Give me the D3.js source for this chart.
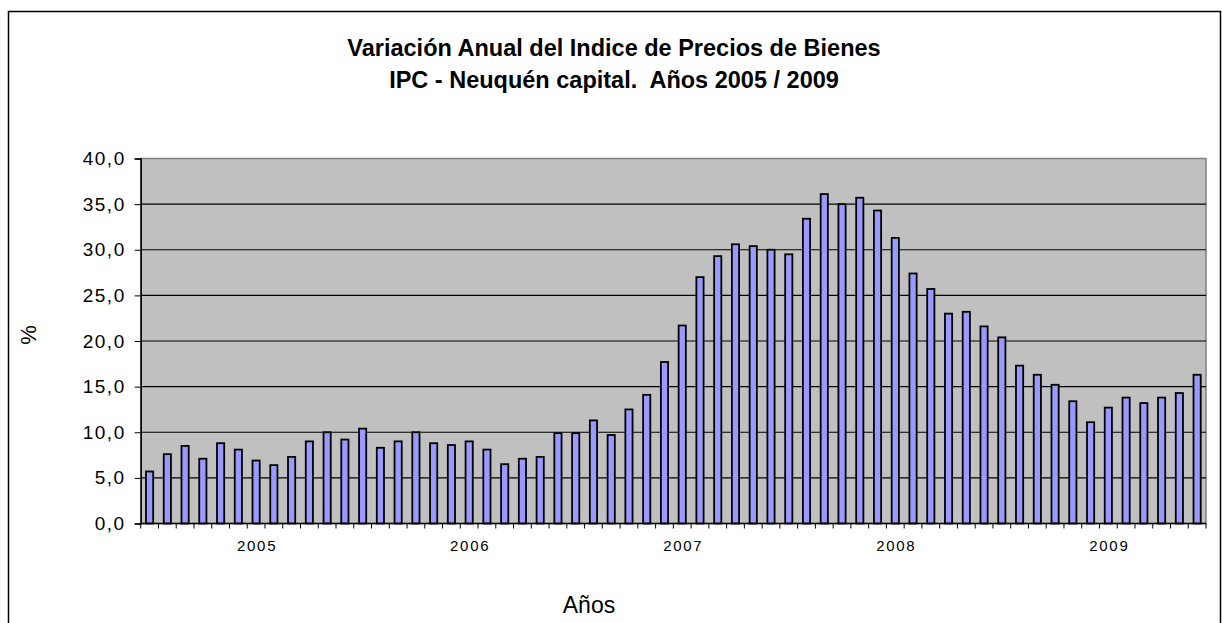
<!DOCTYPE html>
<html>
<head>
<meta charset="utf-8">
<script src="https://cdn.jsdelivr.net/npm/d3@7"></script>
<style>
  body { margin: 0; background: #fff; }
  svg { display: block; font-family: "Liberation Sans", Arial, sans-serif; }
</style>
</head>
<body>
<div id="chart-area"></div>
<script>
const years = ["2005", "2006", "2007", "2008", "2009"];
const months = ["Ene", "Feb", "Mar", "Abr", "May", "Jun", "Jul", "Ago", "Sep", "Oct", "Nov", "Dic"];
const variacion = [
  5.7, 7.6, 8.5, 7.1, 8.8, 8.1, 6.9, 6.4, 7.3, 9.0, 10.0, 9.2,
  10.4, 8.3, 9.0, 10.0, 8.8, 8.6, 9.0, 8.1, 6.5, 7.1, 7.3, 9.9,
  9.9, 11.3, 9.7, 12.5, 14.1, 17.7, 21.7, 27.0, 29.3, 30.6, 30.4, 30.0,
  29.5, 33.4, 36.1, 35.0, 35.7, 34.3, 31.3, 27.4, 25.7, 23.0, 23.2, 21.6,
  20.4, 17.3, 16.3, 15.2, 13.4, 11.1, 12.7, 13.8, 13.2, 13.8, 14.3, 16.3
];
const yTicks = [0, 5, 10, 15, 20, 25, 30, 35, 40];

const data = [];
years.forEach((y, i) => months.forEach((m, j) => {
  data.push({ key: y + "-" + m, year: y, month: j, value: variacion[i * 12 + j] });
}));

const canvas_dims = { width: 1222, height: 623 };
const plot = { left: 140.7, right: 1206, top: 158.5, bottom: 523.5 };

const svg = d3.select("#chart-area")
  .append("svg")
  .attr("width", canvas_dims.width)
  .attr("height", canvas_dims.height);

// outer chart frame
svg.append("rect")
  .attr("x", 8.5).attr("y", 11.5)
  .attr("width", 1212).attr("height", 640)
  .attr("fill", "#fff").attr("stroke", "#000").attr("stroke-width", 1.5);

const x = d3.scaleBand()
  .domain(data.map(d => d.key))
  .range([plot.left, plot.right]);

const y = d3.scaleLinear()
  .domain([0, 40])
  .range([plot.bottom, plot.top]);

const locale = d3.formatLocale({ decimal: ",", thousands: ".", grouping: [3], currency: ["$", ""] });
const fmt = locale.format(".1f");

// plot background
svg.append("rect")
  .attr("x", plot.left).attr("y", plot.top)
  .attr("width", plot.right - plot.left).attr("height", plot.bottom - plot.top)
  .attr("fill", "#c0c0c0").attr("stroke", "#808080").attr("stroke-width", 1.5);

// gridlines
svg.append("g")
  .selectAll("line")
  .data(yTicks.filter(t => t > 0 && t < 40))
  .enter()
  .append("line")
  .attr("x1", plot.left).attr("x2", plot.right)
  .attr("y1", d => y(d)).attr("y2", d => y(d))
  .attr("stroke", "#000").attr("stroke-width", 1.2);

// bars
svg.append("g")
  .selectAll("rect")
  .data(data)
  .enter()
  .append("rect")
  .attr("x", d => x(d.key) + x.bandwidth() / 2 - 3.6)
  .attr("y", d => y(d.value))
  .attr("width", 7.2)
  .attr("height", d => y(0) - y(d.value))
  .attr("fill", "#9999ff")
  .attr("stroke", "#000")
  .attr("stroke-width", 1.8);

// y axis
const yAxis = d3.axisLeft(y).tickValues(yTicks).tickFormat(fmt).tickSize(6).tickPadding(9);
const gy = svg.append("g")
  .attr("transform", `translate(${plot.left},0)`)
  .call(yAxis);
gy.select(".domain").attr("stroke", "#000").attr("stroke-width", 1.5);
gy.selectAll(".tick line").attr("stroke", "#000");
gy.selectAll(".tick text")
  .attr("font-size", "19px")
  .attr("letter-spacing", "1.5px")
  .attr("font-family", "Liberation Sans, Arial, sans-serif")
  .attr("fill", "#000");

// x axis: ticks at every month boundary
const boundaries = d3.range(data.length + 1).map(i => plot.left + i * x.step());
const gx = svg.append("g");
gx.append("line")
  .attr("x1", plot.left).attr("x2", plot.right)
  .attr("y1", plot.bottom).attr("y2", plot.bottom)
  .attr("stroke", "#000").attr("stroke-width", 1.5);
gx.selectAll("line.tick")
  .data(boundaries)
  .enter()
  .append("line")
  .attr("class", "tick")
  .attr("x1", d => d).attr("x2", d => d)
  .attr("y1", plot.bottom).attr("y2", plot.bottom + 5)
  .attr("stroke", "#000").attr("stroke-width", 1);

// year labels under July of each year
gx.selectAll("text")
  .data(data.filter(d => d.month === 6))
  .enter()
  .append("text")
  .attr("x", d => x(d.key) + x.bandwidth() / 2 + 1)
  .attr("y", 551)
  .attr("text-anchor", "middle")
  .attr("font-size", "15px")
  .attr("letter-spacing", "1.7px")
  .text(d => d.year);

// axis titles
svg.append("text")
  .attr("x", 589).attr("y", 613)
  .attr("text-anchor", "middle")
  .attr("font-size", "23px")
  .text("Años");

svg.append("text")
  .attr("transform", "translate(36,335) rotate(-90)")
  .attr("text-anchor", "middle")
  .attr("font-size", "22px")
  .text("%");

// title
const title = svg.append("text")
  .attr("text-anchor", "middle")
  .attr("font-size", "23.5px")
  .attr("font-weight", "bold");
title.append("tspan").attr("x", 614).attr("y", 55.5).text("Variación Anual del Indice de Precios de Bienes");
title.append("tspan").attr("x", 614).attr("y", 88).text("IPC - Neuquén capital.  Años 2005 / 2009").attr("xml:space", "preserve");
</script>
</body>
</html>
